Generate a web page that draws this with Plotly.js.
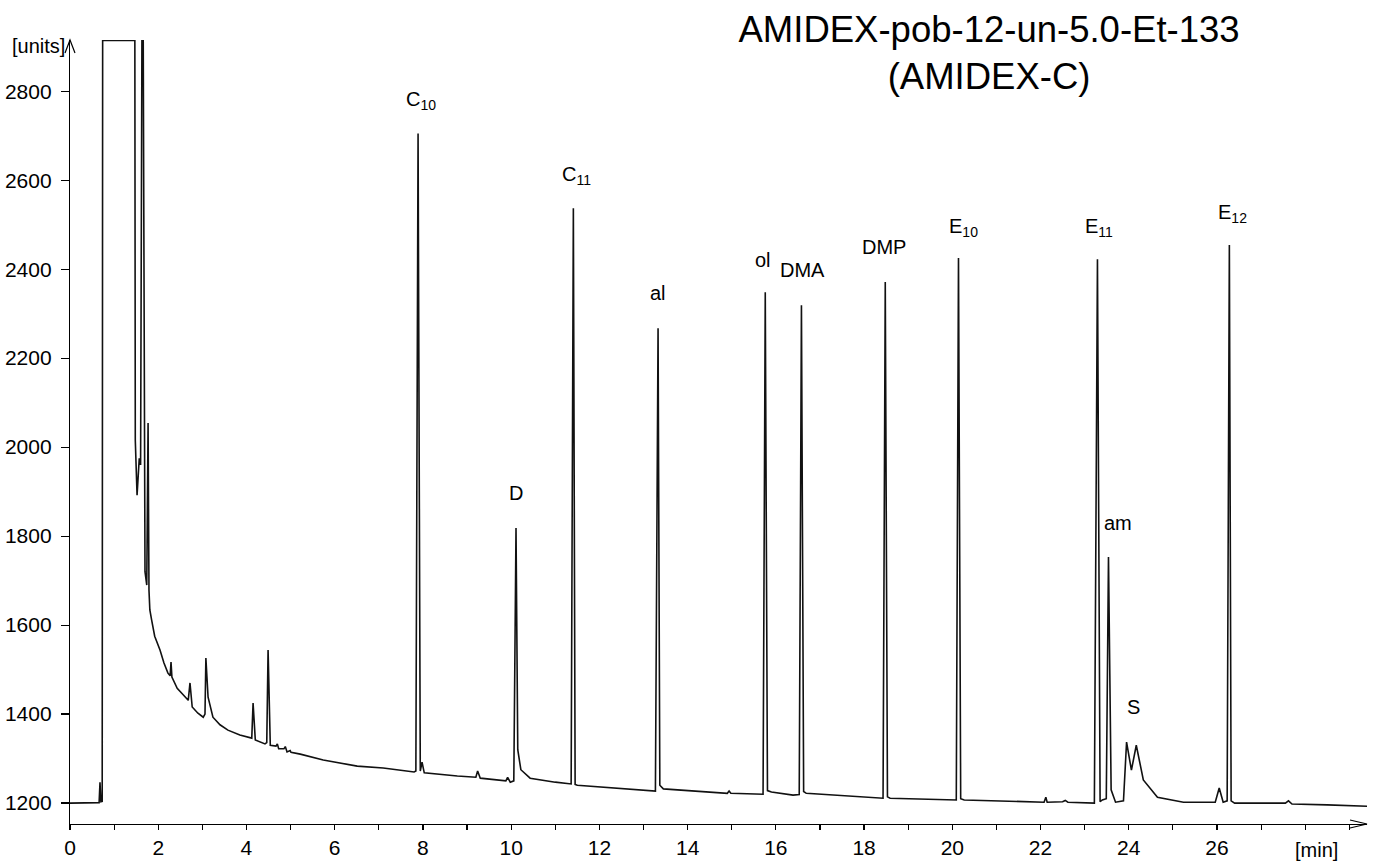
<!DOCTYPE html>
<html>
<head>
<meta charset="utf-8">
<script src="https://cdn.plot.ly/plotly-3.0.1.min.js"></script>
<style>html,body{margin:0;padding:0;background:#fff;}#chart{width:1375px;height:861px;}</style>
</head>
<body>
<div id="chart"></div>
<script>
// Retention time [min]
const timeMin = [
  0, 0.66, 0.68, 0.70, 0.73, 0.74, 1.47, 1.48, 1.52, 1.57, 1.60, 1.63, 1.66, 1.70, 1.74, 1.77, 1.79, 1.81,
  1.85, 1.92, 2.04, 2.13, 2.22, 2.27, 2.29, 2.31, 2.43, 2.54, 2.68, 2.72, 2.77, 2.90, 3.02, 3.06, 3.08, 3.13, 3.24,
  3.40, 3.58, 3.85, 4.12, 4.15, 4.20, 4.42, 4.46, 4.49, 4.54, 4.67, 4.70, 4.73, 4.85, 4.88, 4.92, 4.99, 5.01,
  5.22, 5.74, 6.51, 7.10, 7.80, 7.84, 7.89, 7.94, 7.98, 8.03, 8.78, 9.20, 9.24, 9.30, 9.88, 9.92, 9.98,
  10.06, 10.11, 10.15, 10.22, 10.43, 11.00, 11.36, 11.41, 11.45, 11.50, 13.27, 13.33, 13.37, 13.45,
  14.90, 14.94, 14.98, 15.71, 15.76, 15.81, 15.90, 16.39, 16.53, 16.58, 16.63, 16.69, 18.43, 18.48,
  18.53, 18.59, 20.09, 20.14, 20.19, 20.27, 22.08, 22.12, 22.15, 22.50, 22.56, 22.62, 23.22, 23.29,
  23.35, 23.40, 23.49, 23.54, 23.60, 23.70, 23.88, 23.95, 24.06, 24.17, 24.33, 24.65, 25.24, 25.96,
  26.05, 26.14, 26.23, 26.28, 26.32, 26.40, 27.55, 27.62, 27.70, 28.50, 29.40
];
// Detector signal [units]
const signalUnits = [
  1200, 1201, 1247, 1203, 1204, 2914, 2914, 2016, 1892, 1975, 1960, 2914, 2914, 1720, 1690, 2054, 1679, 1634,
  1612, 1575, 1544, 1515, 1492, 1486, 1517, 1483, 1458, 1447, 1431, 1470, 1416, 1402, 1393, 1400, 1526, 1438, 1393,
  1376, 1364, 1353, 1346, 1425, 1342, 1333, 1336, 1544, 1330, 1328, 1333, 1322, 1322, 1327, 1315, 1318, 1314,
  1310, 1297, 1283, 1279, 1270, 1272, 2705, 1272, 1292, 1268, 1261, 1258, 1272, 1256, 1250, 1258, 1247,
  1250, 1818, 1320, 1275, 1256, 1247, 1243, 2537, 1242, 1240, 1227, 2267, 1240, 1232,
  1222, 1227, 1222, 1220, 2348, 1228, 1225, 1218, 1219, 2319, 1226, 1222, 1211, 2371,
  1214, 1211, 1207, 2425, 1210, 1207, 1202, 1213, 1202, 1203, 1206, 1202, 1200, 2422,
  1203, 1207, 1210, 1753, 1230, 1202, 1205, 1337, 1274, 1330, 1252, 1213, 1202, 1202,
  1234, 1202, 1205, 2454, 1205, 1200, 1200, 1205, 1198, 1196, 1193
];
// Peak labels
const peakLabels = ["C<sub>10</sub>", "D", "C<sub>11</sub>", "al", "ol", "DMA", "DMP", "E<sub>10</sub>", "E<sub>11</sub>", "am", "S", "E<sub>12</sub>"];
const labelTime  = [7.96, 10.11, 11.47, 13.33, 15.71, 16.60, 18.46, 20.25, 23.33, 23.76, 24.10, 26.35];
const labelValue = [2780, 1897, 2611, 2346, 2420, 2398, 2449, 2494, 2494, 1829, 1416, 2526];
// Axis ticks
const yTicks = [1200, 1400, 1600, 1800, 2000, 2200, 2400, 2600, 2800];
const xTicks = [0, 2, 4, 6, 8, 10, 12, 14, 16, 18, 20, 22, 24, 26];
const xMinorTicks = [1, 3, 5, 7, 9, 11, 13, 15, 17, 19, 21, 23, 25, 27, 28, 29];

const FONT = "Liberation Sans, Arial, sans-serif";

const annotations = peakLabels.map((txt, i) => ({
  x: labelTime[i], y: labelValue[i], xref: "x", yref: "y",
  text: txt, showarrow: false, xanchor: "center", yanchor: "middle",
  font: {family: FONT, size: 20, color: "#000"}
}));
annotations.push({
  x: 0, y: 1, xref: "paper", yref: "paper", text: "[units]", showarrow: false,
  xanchor: "right", yanchor: "middle", xshift: -3, yshift: -6,
  font: {family: FONT, size: 20, color: "#000"}
});
annotations.push({
  x: 28.25, y: 0, xref: "x", yref: "paper", text: "[min]", showarrow: false,
  xanchor: "center", yanchor: "top", yshift: -13,
  font: {family: FONT, size: 20, color: "#000"}
});

const shapes = [
  {type: "path", xref: "paper", yref: "paper", xsizemode: "pixel", ysizemode: "pixel",
   xanchor: 0, yanchor: 1, path: "M -5,-13 L 0,0 L 5,-13", line: {color: "#000", width: 1.2}},
  {type: "path", xref: "paper", yref: "paper", xsizemode: "pixel", ysizemode: "pixel",
   xanchor: 1, yanchor: 0, path: "M -17,4 L 0,0 L -17,-4", line: {color: "#000", width: 1.2}}
];

const trace = {
  x: timeMin, y: signalUnits, type: "scatter", mode: "lines",
  line: {color: "#111", width: 1.6}, hoverinfo: "skip"
};

const layout = {
  width: 1375, height: 861,
  margin: {l: 70, r: 8, t: 40, b: 37},
  paper_bgcolor: "#fff", plot_bgcolor: "#fff",
  showlegend: false,
  title: {
    text: "AMIDEX-pob-12-un-5.0-Et-133<br>(AMIDEX-C)",
    x: 0.7193, xanchor: "center", xref: "container",
    y: 0.9515, yanchor: "top", yref: "container",
    font: {family: FONT, size: 36.5, color: "#000"}
  },
  xaxis: {
    range: [0, 29.4], showgrid: false, zeroline: false,
    showline: true, linecolor: "#000", linewidth: 1.2,
    tickmode: "array", tickvals: xTicks,
    ticks: "outside", ticklen: 5, tickwidth: 1.2, tickcolor: "#000",
    minor: {tickmode: "array", tickvals: xMinorTicks, ticks: "outside", ticklen: 5, tickwidth: 1.2, tickcolor: "#000", showgrid: false},
    tickfont: {family: FONT, size: 21, color: "#000"}
  },
  yaxis: {
    range: [1153, 2915], showgrid: false, zeroline: false,
    showline: true, linecolor: "#000", linewidth: 1.2,
    tickmode: "array", tickvals: yTicks,
    ticks: "outside", ticklen: 8, tickwidth: 1.2, tickcolor: "#000",
    ticklabelstandoff: 5,
    tickfont: {family: FONT, size: 21, color: "#000"}
  },
  annotations: annotations,
  shapes: shapes
};

Plotly.newPlot("chart", [trace], layout, {displayModeBar: false, staticPlot: true});
</script>
</body>
</html>
